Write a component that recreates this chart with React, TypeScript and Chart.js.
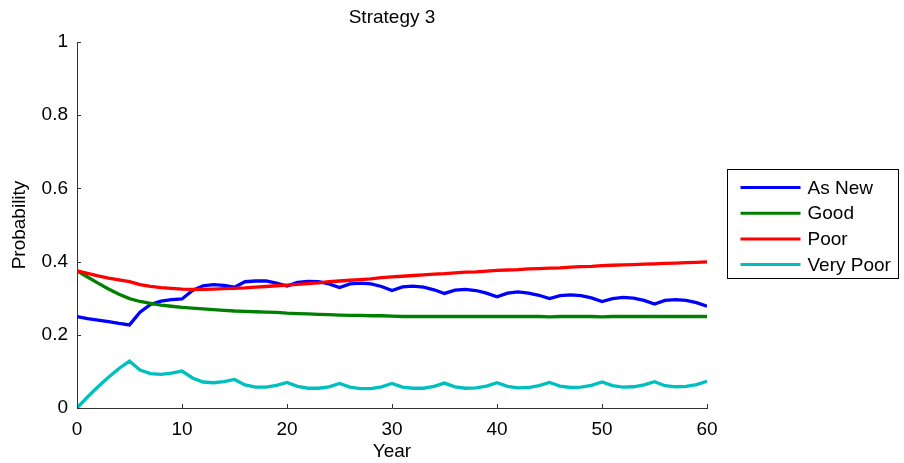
import React, { useEffect, useRef } from "react";
import { Chart, registerables } from "chart.js";

Chart.register(...registerables);

const FONT = "'Liberation Sans', Arial, Helvetica, sans-serif";

const titleText = "Strategy 3";
const xTitle = "Year";
const yTitle = "Probability";

const years = [
  0, 1, 2, 3, 4, 5, 6, 7, 8, 9, 10, 11, 12, 13, 14, 15, 16, 17, 18, 19, 20,
  21, 22, 23, 24, 25, 26, 27, 28, 29, 30, 31, 32, 33, 34, 35, 36, 37, 38, 39, 40,
  41, 42, 43, 44, 45, 46, 47, 48, 49, 50, 51, 52, 53, 54, 55, 56, 57, 58, 59, 60,
];

const asNew = [
  0.25, 0.244, 0.24, 0.236, 0.231, 0.227, 0.262, 0.283, 0.292, 0.296, 0.298,
  0.321, 0.334, 0.337, 0.335, 0.33, 0.345, 0.347, 0.347, 0.341, 0.333,
  0.343, 0.346, 0.345, 0.339, 0.329, 0.339, 0.341, 0.339, 0.332, 0.321,
  0.331, 0.333, 0.33, 0.323, 0.313, 0.322, 0.324, 0.321, 0.314, 0.304,
  0.314, 0.317, 0.314, 0.308, 0.299, 0.307, 0.309, 0.307, 0.301, 0.291,
  0.299, 0.302, 0.3, 0.294, 0.284, 0.294, 0.296, 0.294, 0.288, 0.278,
];

const good = [
  0.375, 0.358, 0.341, 0.325, 0.311, 0.299, 0.291, 0.286, 0.281, 0.278, 0.275,
  0.273, 0.271, 0.269, 0.267, 0.265, 0.264, 0.263, 0.262, 0.261, 0.259,
  0.258, 0.257, 0.256, 0.255, 0.254, 0.253, 0.253, 0.252, 0.252, 0.251,
  0.25, 0.25, 0.25, 0.25, 0.25, 0.25, 0.25, 0.25, 0.25, 0.25,
  0.25, 0.25, 0.25, 0.25, 0.249, 0.25, 0.25, 0.25, 0.25, 0.249,
  0.25, 0.25, 0.25, 0.25, 0.25, 0.25, 0.25, 0.25, 0.25, 0.25,
];

const poor = [
  0.375, 0.368, 0.361, 0.355, 0.35, 0.345, 0.337, 0.332, 0.329, 0.327, 0.325,
  0.324, 0.324, 0.325, 0.326, 0.327, 0.328, 0.33, 0.332, 0.334, 0.336,
  0.338, 0.34, 0.342, 0.345, 0.347, 0.349, 0.351, 0.353, 0.356, 0.358,
  0.36, 0.362, 0.364, 0.366, 0.367, 0.369, 0.371, 0.372, 0.374, 0.376,
  0.377, 0.378, 0.38, 0.381, 0.382, 0.383, 0.385, 0.386, 0.387, 0.389,
  0.39, 0.391, 0.392, 0.393, 0.394, 0.395, 0.396, 0.397, 0.398, 0.399,
];

const veryPoor = [
  0.0, 0.03, 0.058, 0.084, 0.108, 0.128, 0.104, 0.094, 0.092, 0.095, 0.101,
  0.082, 0.071, 0.069, 0.072, 0.078, 0.063, 0.057, 0.057, 0.062, 0.07,
  0.059, 0.054, 0.054, 0.058, 0.067, 0.057, 0.053, 0.053, 0.058, 0.067,
  0.057, 0.054, 0.054, 0.059, 0.068, 0.058, 0.054, 0.055, 0.06, 0.069,
  0.059, 0.055, 0.056, 0.061, 0.07, 0.06, 0.056, 0.057, 0.062, 0.071,
  0.061, 0.057, 0.058, 0.063, 0.072, 0.061, 0.058, 0.059, 0.064, 0.073,
];

const seriesNames = ["As New", "Good", "Poor", "Very Poor"];
const seriesColors = ["#0000ff", "#008000", "#ff0000", "#00bfbf"];
const seriesValues = [asNew, good, poor, veryPoor];

const xTicks = [0, 10, 20, 30, 40, 50, 60];
const yTicks = [0, 0.2, 0.4, 0.6, 0.8, 1];

const innerTicksPlugin = {
  id: "innerTicks",
  afterDraw(chart: any) {
    const { ctx, chartArea } = chart;
    const xs = chart.scales.x;
    const ys = chart.scales.y;
    ctx.save();
    ctx.strokeStyle = "#333333";
    ctx.lineWidth = 1;
    ctx.beginPath();
    yTicks.forEach((v) => {
      const py = Math.round(ys.getPixelForValue(v)) + 0.5;
      ctx.moveTo(chartArea.left, py);
      ctx.lineTo(chartArea.left + 4, py);
    });
    xTicks.forEach((v) => {
      const px = Math.round(xs.getPixelForValue(v)) + 0.5;
      ctx.moveTo(px, chartArea.bottom);
      ctx.lineTo(px, chartArea.bottom - 4);
    });
    ctx.stroke();
    ctx.restore();
  },
};

const centeredTitlePlugin = {
  id: "centeredTitle",
  afterDraw(chart: any) {
    const { ctx, chartArea } = chart;
    ctx.save();
    ctx.font = `19px ${FONT}`;
    ctx.fillStyle = "#000000";
    ctx.textAlign = "center";
    ctx.textBaseline = "middle";
    ctx.fillText(titleText, (chartArea.left + chartArea.right) / 2, chartArea.top - 24);
    ctx.restore();
  },
};

const boxLegendPlugin = {
  id: "boxLegend",
  afterDraw(chart: any) {
    const { ctx, chartArea } = chart;
    const left = chartArea.right + 20.5;
    const w = 171;
    const h = 109;
    const mid = (chartArea.top + chartArea.bottom) / 2;
    const top = Math.round(mid - h / 2 - 2) + 0.5;
    ctx.save();
    ctx.fillStyle = "#ffffff";
    ctx.fillRect(left, top, w, h);
    ctx.strokeStyle = "#000000";
    ctx.lineWidth = 1;
    ctx.strokeRect(left, top, w, h);
    ctx.font = `19px ${FONT}`;
    ctx.textBaseline = "middle";
    ctx.textAlign = "left";
    seriesNames.forEach((name, i) => {
      const y = top + 18 + i * 25.7;
      ctx.strokeStyle = seriesColors[i];
      ctx.lineWidth = 3;
      ctx.beginPath();
      ctx.moveTo(left + 13, y);
      ctx.lineTo(left + 73, y);
      ctx.stroke();
      ctx.fillStyle = "#000000";
      ctx.fillText(name, left + 80, y + 1);
    });
    ctx.restore();
  },
};

export default function App() {
  const canvasRef = useRef<HTMLCanvasElement | null>(null);

  useEffect(() => {
    if (!canvasRef.current) return;
    Chart.defaults.font.family = FONT;
    Chart.defaults.color = "#000000";
    const chart = new Chart(canvasRef.current, {
      type: "line",
      data: {
        datasets: seriesNames.map((name, i) => ({
          label: name,
          data: years.map((yr, j) => ({ x: yr, y: seriesValues[i][j] })),
          borderColor: seriesColors[i],
          backgroundColor: seriesColors[i],
          borderWidth: 3.3,
          pointRadius: 0,
          tension: 0,
          fill: false,
          order: seriesNames.length - i,
        })),
      },
      options: {
        animation: false,
        responsive: true,
        maintainAspectRatio: false,
        layout: { padding: { left: 0, right: 197, top: 42, bottom: 0 } },
        plugins: {
          legend: { display: false },
          tooltip: { enabled: false },
          title: { display: false },
        },
        scales: {
          x: {
            type: "linear",
            min: 0,
            max: 60,
            afterFit(scale: any) {
              scale.height = 55;
            },
            afterBuildTicks(scale: any) {
              scale.ticks = xTicks.map((v) => ({ value: v }));
            },
            grid: { display: false, drawTicks: false },
            border: { display: true, color: "#333333", width: 1 },
            ticks: {
              padding: 10,
              color: "#000000",
              font: { size: 19, family: FONT },
              maxRotation: 0,
              callback: (v: any) => String(v),
            },
            title: {
              display: true,
              text: xTitle,
              color: "#000000",
              font: { size: 19, family: FONT },
              padding: { top: 0, bottom: 0 },
            },
          },
          y: {
            type: "linear",
            min: 0,
            max: 1,
            afterFit(scale: any) {
              scale.width = 77;
            },
            afterBuildTicks(scale: any) {
              scale.ticks = yTicks.map((v) => ({ value: v }));
            },
            grid: { display: false, drawTicks: false },
            border: { display: true, color: "#333333", width: 1 },
            ticks: {
              padding: 9,
              color: "#000000",
              font: { size: 19, family: FONT },
              callback: (v: any) => String(Math.round(v * 10) / 10),
            },
            title: {
              display: true,
              text: yTitle,
              color: "#000000",
              font: { size: 19, family: FONT },
              padding: { top: 8, bottom: 0 },
            },
          },
        },
      },
      plugins: [innerTicksPlugin, centeredTitlePlugin, boxLegendPlugin],
    });
    return () => chart.destroy();
  }, []);

  return (
    <div
      style={{
        position: "fixed",
        left: 0,
        top: 0,
        width: "904px",
        height: "463px",
        background: "#ffffff",
      }}
    >
      <canvas ref={canvasRef} />
    </div>
  );
}
